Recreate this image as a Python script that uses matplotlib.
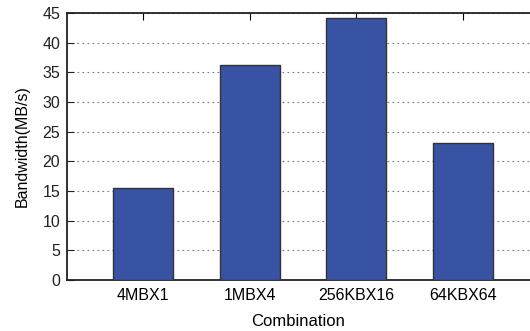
import matplotlib
matplotlib.use("Agg")
import matplotlib.pyplot as plt

# combinaçoes testadas e banda medida
combinacoes = ["4MBX1", "1MBX4", "256KBX16", "64KBX64"]
banda = [15.5, 36.2, 44.2, 23.1]
yticks = [0, 5, 10, 15, 20, 25, 30, 35, 40, 45]

plt.rcParams['font.family'] = ['Liberation Sans', 'DejaVu Sans']

fig = plt.figure(figsize=(5.3, 3.31), dpi=100)
ax = fig.add_axes([67/530, 51/331, 1 - 67/530, 267/331])

x = range(len(combinacoes))
ax.bar(x, banda, width=0.56, color="#3853a4", edgecolor="#333333", linewidth=1.0, zorder=3)

ax.set_xlim(-0.714, 3.63)
ax.set_ylim(0, 45)
ax.set_yticks(yticks)
ax.set_xticks(list(x))
ax.set_xticklabels(combinacoes)

# grade pontilhada
ax.yaxis.grid(True, linestyle=(0, (1.5, 3)), color="#777777", linewidth=0.8, zorder=0)

ax.spines['right'].set_visible(False)
for s in ['left', 'bottom', 'top']:
    ax.spines[s].set_linewidth(1.3)
    ax.spines[s].set_color("#222222")

ax.tick_params(axis='y', direction='in', length=5, labelsize=11.5, pad=5, colors="#222222")
ax.tick_params(axis='x', direction='in', length=5, labelsize=11.5, pad=6, top=True, bottom=False)

ax.set_ylabel("Bandwidth(MB/s)", fontsize=11.5, labelpad=9)
ax.set_xlabel("Combination", fontsize=12, labelpad=8)

fig.savefig("out.png", dpi=100)
